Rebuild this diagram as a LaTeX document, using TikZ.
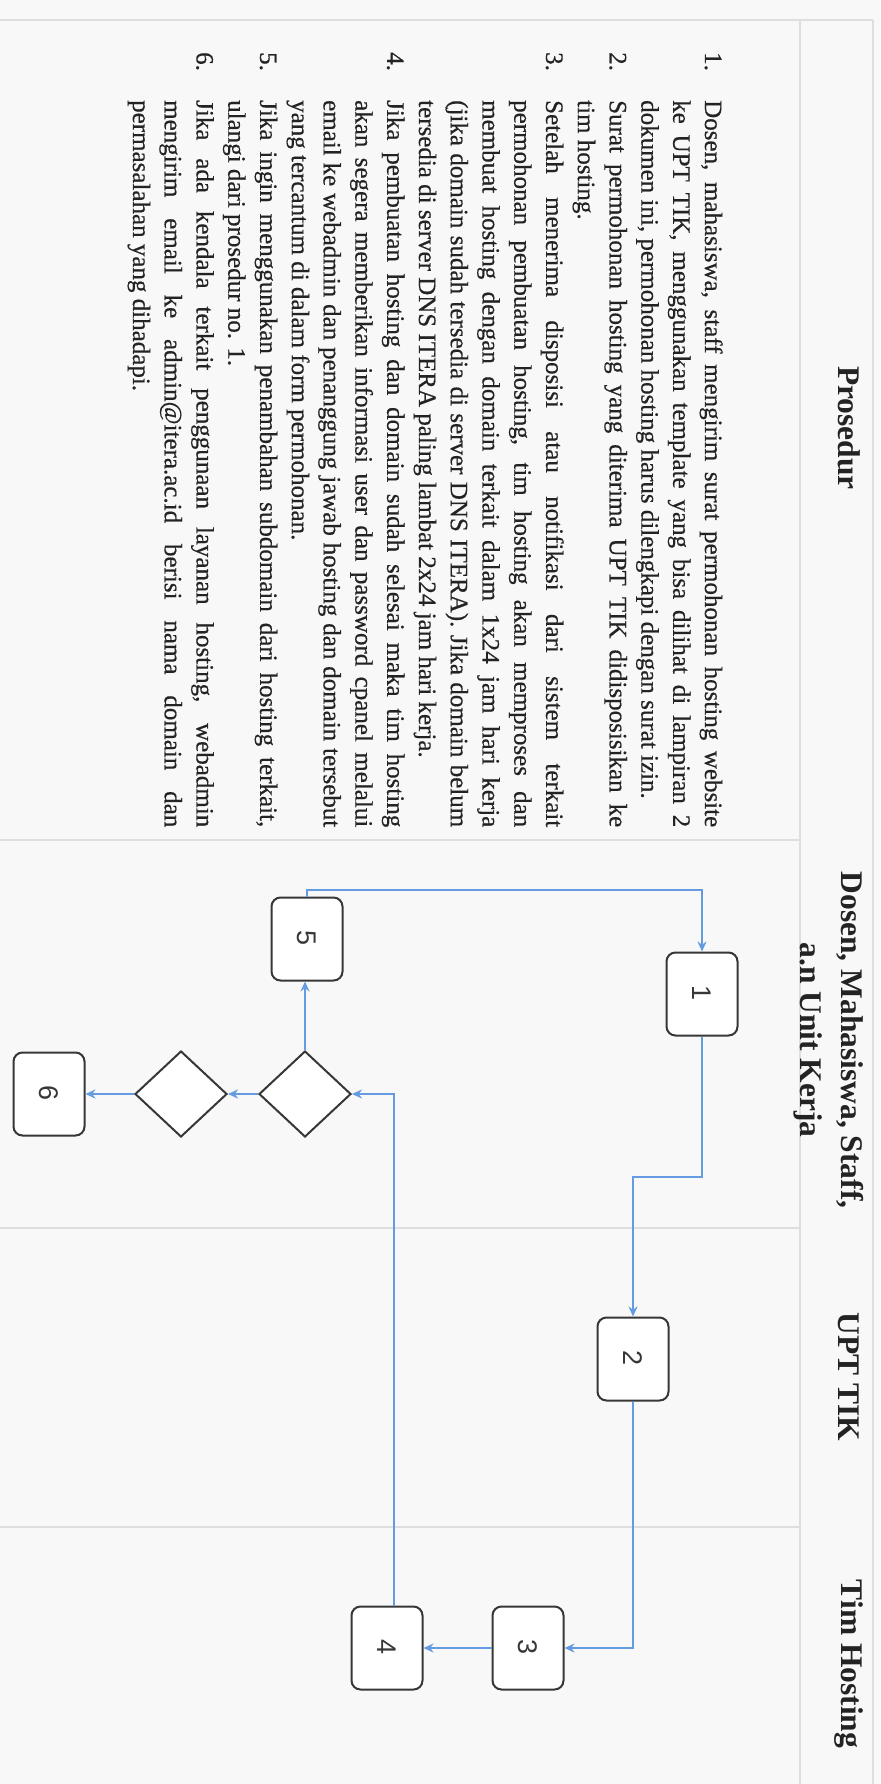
\documentclass[tikz,border=0pt]{standalone}
\usepackage{fontspec}
\usepackage{graphicx}
\setmainfont{Liberation Serif}
\newfontfamily\boxfont{Liberation Sans}
\newfontfamily\bodyfont[FakeBold=0.5]{Liberation Serif}
\usetikzlibrary{shapes.geometric,arrows.meta,calc}
\definecolor{conncol}{RGB}{100,155,225}
\definecolor{boxcol}{RGB}{55,55,55}
\definecolor{gridcol}{RGB}{222,222,222}
\definecolor{bgcol}{RGB}{248,248,248}
\definecolor{txtcol}{RGB}{35,35,35}
\begin{document}
\begin{tikzpicture}[x=1pt,y=-1pt,
  stepbox/.style={draw=boxcol, line width=2pt, rounded corners=9pt, fill=white,
    minimum width=71pt, minimum height=83pt, inner sep=0pt,
    font=\boxfont\fontsize{27}{27}\selectfont, text=boxcol},
  decision/.style={draw=boxcol, line width=2pt, shape=diamond, minimum width=92pt,
    minimum height=86pt, inner sep=0pt, fill=white},
  conn/.style={draw=conncol, line width=1.6pt, -{Stealth[length=10pt,width=9pt]}},
  gridline/.style={draw=gridcol, line width=1.8pt},
  body/.style={rotate=-90, anchor=base west, inner sep=0pt,
    font=\bodyfont\fontsize{25}{30}\selectfont, text=txtcol},
  hdr/.style={rotate=-90, inner sep=0pt, align=center,
    font=\bfseries\fontsize{31.5}{41}\selectfont, text=txtcol}]
\fill[bgcol] (0,0) rectangle (880,1784);
\useasboundingbox (0,0) rectangle (880,1784);
% table lines
\draw[gridline] (0,20) -- (873,20);
\draw[gridline] (873,20) -- (873,1784);
\draw[gridline] (800,20) -- (800,1784);
\draw[gridline] (0,840) -- (800,840);
\draw[gridline] (0,1228) -- (800,1228);
\draw[gridline] (0,1527) -- (800,1527);
% headers
\node[hdr] (hP) at (849,428) {Prosedur};
\node[hdr] (hD) at (828.5,1040) {Dosen, Mahasiswa, Staff,\\ a.n Unit Kerja};
\node[hdr] (hU) at (849,1377) {UPT TIK};
\node[hdr] (hT) at (849,1664) {Tim Hosting};
% numbers
\node[body] (n1) at (705,52) {1.};
\node[body] (n2) at (609.7,52) {2.};
\node[body] (n3) at (546.1,52) {3.};
\node[body] (n4) at (387.2,52) {4.};
\node[body] (n5) at (260.1,52) {5.};
\node[body] (n6) at (196.5,52) {6.};
% procedure text
\node[body] (t1) at (705,100) {\makebox[727pt][s]{Dosen, mahasiswa, staff mengirim surat permohonan hosting website}};
\node[body] (t2) at (673.2,100) {\makebox[727pt][s]{ke UPT TIK, menggunakan template yang bisa dilihat di lampiran 2}};
\node[body] (t3) at (641.4,100) {dokumen ini, permohonan hosting harus dilengkapi dengan surat izin.};
\node[body] (t4) at (609.7,100) {\makebox[727pt][s]{Surat permohonan hosting yang diterima UPT TIK didisposisikan ke}};
\node[body] (t5) at (577.9,100) {tim hosting.};
\node[body] (t6) at (546.1,100) {\makebox[727pt][s]{Setelah menerima disposisi atau notifikasi dari sistem terkait}};
\node[body] (t7) at (514.3,100) {\makebox[727pt][s]{permohonan pembuatan hosting, tim hosting akan memproses dan}};
\node[body] (t8) at (482.5,100) {\makebox[727pt][s]{membuat hosting dengan domain terkait dalam 1x24 jam hari kerja}};
\node[body] (t9) at (450.8,100) {\makebox[727pt][s]{(jika domain sudah tersedia di server DNS ITERA). Jika domain belum}};
\node[body] (t10) at (419,100) {tersedia di server DNS ITERA paling lambat 2x24 jam hari kerja.};
\node[body] (t11) at (387.2,100) {\makebox[727pt][s]{Jika pembuatan hosting dan domain sudah selesai maka tim hosting}};
\node[body] (t12) at (355.4,100) {\makebox[727pt][s]{akan segera memberikan informasi user dan password cpanel melalui}};
\node[body] (t13) at (323.6,100) {\makebox[727pt][s]{email ke webadmin dan penanggung jawab hosting dan domain tersebut}};
\node[body] (t14) at (291.9,100) {yang tercantum di dalam form permohonan.};
\node[body] (t15) at (260.1,100) {\makebox[727pt][s]{Jika ingin menggunakan penambahan subdomain dari hosting terkait,}};
\node[body] (t16) at (228.3,100) {ulangi dari prosedur no. 1.};
\node[body] (t17) at (196.5,100) {\makebox[727pt][s]{Jika ada kendala terkait penggunaan layanan hosting, webadmin}};
\node[body] (t18) at (164.7,100) {\makebox[727pt][s]{mengirim email ke admin@itera.ac.id berisi nama domain dan}};
\node[body] (t19) at (133,100) {permasalahan yang dihadapi.};
% flow nodes
\node[stepbox] (b1) at (702,994) {\rotatebox[origin=c]{-90}{1}};
\node[stepbox] (b2) at (633,1359) {\rotatebox[origin=c]{-90}{2}};
\node[stepbox] (b3) at (528,1648) {\rotatebox[origin=c]{-90}{3}};
\node[stepbox] (b4) at (387,1648) {\rotatebox[origin=c]{-90}{4}};
\node[stepbox] (b5) at (307,939) {\rotatebox[origin=c]{-90}{5}};
\node[stepbox] (b6) at (49,1094) {\rotatebox[origin=c]{-90}{6}};
\node[decision] (d1) at (305,1094) {};
\node[decision] (d2) at (181,1094) {};
% connectors
\coordinate (k51) at (0,890);
\coordinate (k12) at (0,1177);
\draw[conn] (b5.north) -- (b5.north |- k51) -| (b1.north);
\draw[conn] (b1.south) -- (b1.south |- k12) -| (b2.north);
\draw[conn] (b2.south) |- (b3.east);
\draw[conn] (b3.west) -- (b3.west -| b4.east);
\draw[conn] ([xshift=7pt]b4.north) |- (d1.east);
\draw[conn] (d1.north) -- (d1.north |- b5.south);
\draw[conn] (d1.west) -- (d2.east);
\draw[conn] (d2.west) -- (d2.west -| b6.east);
\end{tikzpicture}
\end{document}
